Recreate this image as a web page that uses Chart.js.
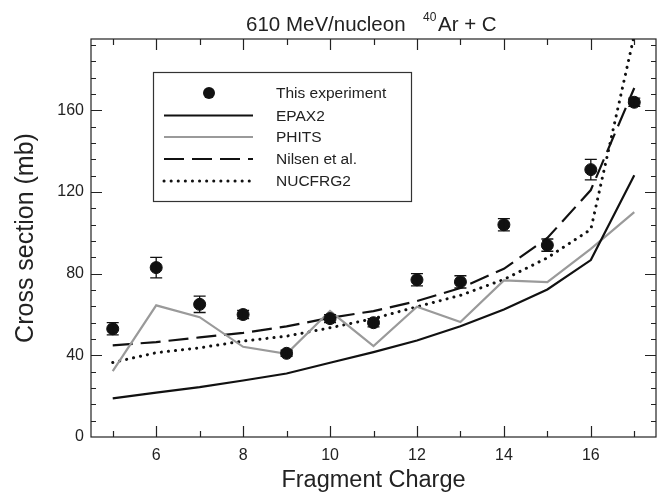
<!DOCTYPE html>
<html>
<head>
<meta charset="utf-8">
<script src="https://cdn.jsdelivr.net/npm/chart.js@4"></script>
<style>
    html, body { margin: 0; padding: 0; background: #fff; }
    #wrap { width: 663px; height: 495px; }
</style>
</head>
<body>
<div id="wrap"><canvas id="c"></canvas></div>
<script>
// 데이터: 조각 전하(Z)별 단면적 (mb)
const charges = [5, 6, 7, 8, 9, 10, 11, 12, 13, 14, 15, 16, 17];
const expValues = [53, 83, 65, 60, 41, 58, 56, 77, 76, 104, 94, 131, 164];
const expErrors = [3, 5, 4, 2, 1.5, 2, 2, 3, 3, 3, 3, 5, 2];
const epax2 = [18.9, 21.7, 24.4, 27.7, 31.1, 36.4, 41.6, 47.3, 54.3, 62.5, 72.3, 86.7, 128.3];
const phits = [32.3, 64.5, 58.7, 44.2, 40.8, 61.7, 44.5, 63.8, 56.3, 76.7, 75.9, 92.2, 110.2];
const nilsen = [44.9, 46.5, 48.8, 51, 54.2, 58.4, 61.7, 66.6, 73, 82.4, 97.5, 121, 171];
const nucfrg2 = [36.5, 41.3, 43.7, 47, 49.4, 53.5, 58, 63.8, 69.4, 77.2, 87.8, 101.7, 197];

const xTickLabels = [6, 8, 10, 12, 14, 16];
const yTickLabels = [0, 40, 80, 120, 160];

const FONT = "'Liberation Sans', Arial, Helvetica, sans-serif";

function points(values) {
    return charges.map((z, i) => ({x: z, y: values[i]}));
}

// 안쪽을 향한 눈금, 테두리, 오차 막대, 범례, 제목
const decor = {
    id: "decor",
    afterDatasetsDraw(chart) {
        const ctx = chart.ctx;
        const xs = chart.scales.x, ys = chart.scales.y;
        ctx.save();
        ctx.strokeStyle = "#111";
        ctx.lineWidth = 1.3;
        charges.forEach((z, i) => {
            const px = xs.getPixelForValue(z);
            const top = ys.getPixelForValue(expValues[i] + expErrors[i]);
            const bot = ys.getPixelForValue(expValues[i] - expErrors[i]);
            ctx.beginPath();
            ctx.moveTo(px, top); ctx.lineTo(px, bot);
            ctx.moveTo(px - 6, top); ctx.lineTo(px + 6, top);
            ctx.moveTo(px - 6, bot); ctx.lineTo(px + 6, bot);
            ctx.stroke();
        });
        ctx.restore();
    },
    afterDraw(chart) {
        const ctx = chart.ctx;
        const a = chart.chartArea;
        const xs = chart.scales.x, ys = chart.scales.y;
        ctx.save();
        ctx.strokeStyle = "#222";
        ctx.lineWidth = 1.2;
        ctx.strokeRect(a.left, a.top, a.right - a.left, a.bottom - a.top);

        ctx.beginPath();
        for (let z = 5; z <= 17; z++) {
            const px = Math.round(xs.getPixelForValue(z)) + 0.5;
            const len = xTickLabels.includes(z) ? 11 : 6;
            ctx.moveTo(px, a.bottom); ctx.lineTo(px, a.bottom - len);
            ctx.moveTo(px, a.top); ctx.lineTo(px, a.top + len);
        }
        for (let v = 8; v < 195; v += 8) {
            const py = Math.round(ys.getPixelForValue(v)) + 0.5;
            const len = yTickLabels.includes(v) ? 11 : 5;
            ctx.moveTo(a.left, py); ctx.lineTo(a.left + len, py);
            ctx.moveTo(a.right, py); ctx.lineTo(a.right - len, py);
        }
        ctx.stroke();

        // 제목
        ctx.fillStyle = "#222";
        ctx.textBaseline = "alphabetic";
        ctx.textAlign = "left";
        ctx.font = "20.5px " + FONT;
        ctx.fillText("610 MeV/nucleon", 246, 31);
        ctx.font = "12px " + FONT;
        ctx.fillText("40", 423, 21);
        ctx.font = "20.5px " + FONT;
        ctx.fillText("Ar + C", 438, 31);

        // 범례
        const box = {x: 153, y: 72, w: 258, h: 129};
        ctx.lineWidth = 1.2;
        ctx.strokeStyle = "#333";
        ctx.strokeRect(box.x + 0.5, box.y + 0.5, box.w, box.h);
        const rows = [93, 115.5, 137, 159, 181];
        ctx.font = "15.5px " + FONT;
        ctx.textBaseline = "middle";
        chart.data.datasets.forEach((ds, i) => {
            const y = rows[i];
            if (ds.showLine === false) {
                ctx.fillStyle = "#111";
                ctx.beginPath();
                ctx.arc(209, y, 6, 0, Math.PI * 2);
                ctx.fill();
            } else {
                ctx.save();
                ctx.strokeStyle = ds.borderColor;
                ctx.lineWidth = ds.borderWidth;
                ctx.setLineDash(ds.borderDash || []);
                ctx.lineCap = ds.borderCapStyle || "butt";
                ctx.beginPath();
                ctx.moveTo(164, y); ctx.lineTo(253, y);
                ctx.stroke();
                ctx.restore();
            }
            ctx.fillStyle = "#222";
            ctx.fillText(ds.label, 276, y + 1);
        });
        ctx.restore();
    }
};

new Chart(document.getElementById("c"), {
    type: "scatter",
    data: {
        datasets: [
            {label: "This experiment", data: points(expValues), showLine: false,
             pointRadius: 6, pointHoverRadius: 6, backgroundColor: "#111", borderColor: "#111"},
            {label: "EPAX2", data: points(epax2), showLine: true, borderColor: "#111",
             borderWidth: 2.2, pointRadius: 0},
            {label: "PHITS", data: points(phits), showLine: true, borderColor: "#9a9a9a",
             borderWidth: 2.2, pointRadius: 0},
            {label: "Nilsen et al.", data: points(nilsen), showLine: true, borderColor: "#111",
             borderWidth: 2.2, borderDash: [20, 8], pointRadius: 0},
            {label: "NUCFRG2", data: points(nucfrg2), showLine: true, borderColor: "#111",
             borderWidth: 3, borderDash: [0.1, 7], borderCapStyle: "round", pointRadius: 0},
        ],
    },
    options: {
        responsive: true,
        maintainAspectRatio: false,
        animation: false,
        layout: {padding: {top: 39, right: 5, left: 0, bottom: 0}},
        plugins: {
            legend: {display: false},
            title: {display: false},
            tooltip: {enabled: false},
        },
        scales: {
            x: {
                type: "linear", min: 4.5, max: 17.5,
                afterBuildTicks: s => { s.ticks = xTickLabels.map(v => ({value: v})); },
                afterFit: s => { s.height = 58; },
                grid: {display: false, drawTicks: false},
                border: {display: false},
                ticks: {padding: 9, color: "#222", font: {family: FONT, size: 16}},
                title: {display: true, text: "Fragment Charge", color: "#222",
                        font: {family: FONT, size: 23.5}, padding: {top: 0, bottom: 0}},
            },
            y: {
                type: "linear", min: 0, max: 195,
                afterBuildTicks: s => { s.ticks = yTickLabels.map(v => ({value: v})); },
                afterFit: s => { s.width = 91; },
                grid: {display: false, drawTicks: false},
                border: {display: false},
                ticks: {padding: 7, color: "#222", font: {family: FONT, size: 16}},
                title: {display: true, text: "Cross section (mb)", color: "#222",
                        font: {family: FONT, size: 25}, padding: {top: 11, bottom: 0}},
            },
        },
    },
    plugins: [decor],
});
</script>
</body>
</html>
